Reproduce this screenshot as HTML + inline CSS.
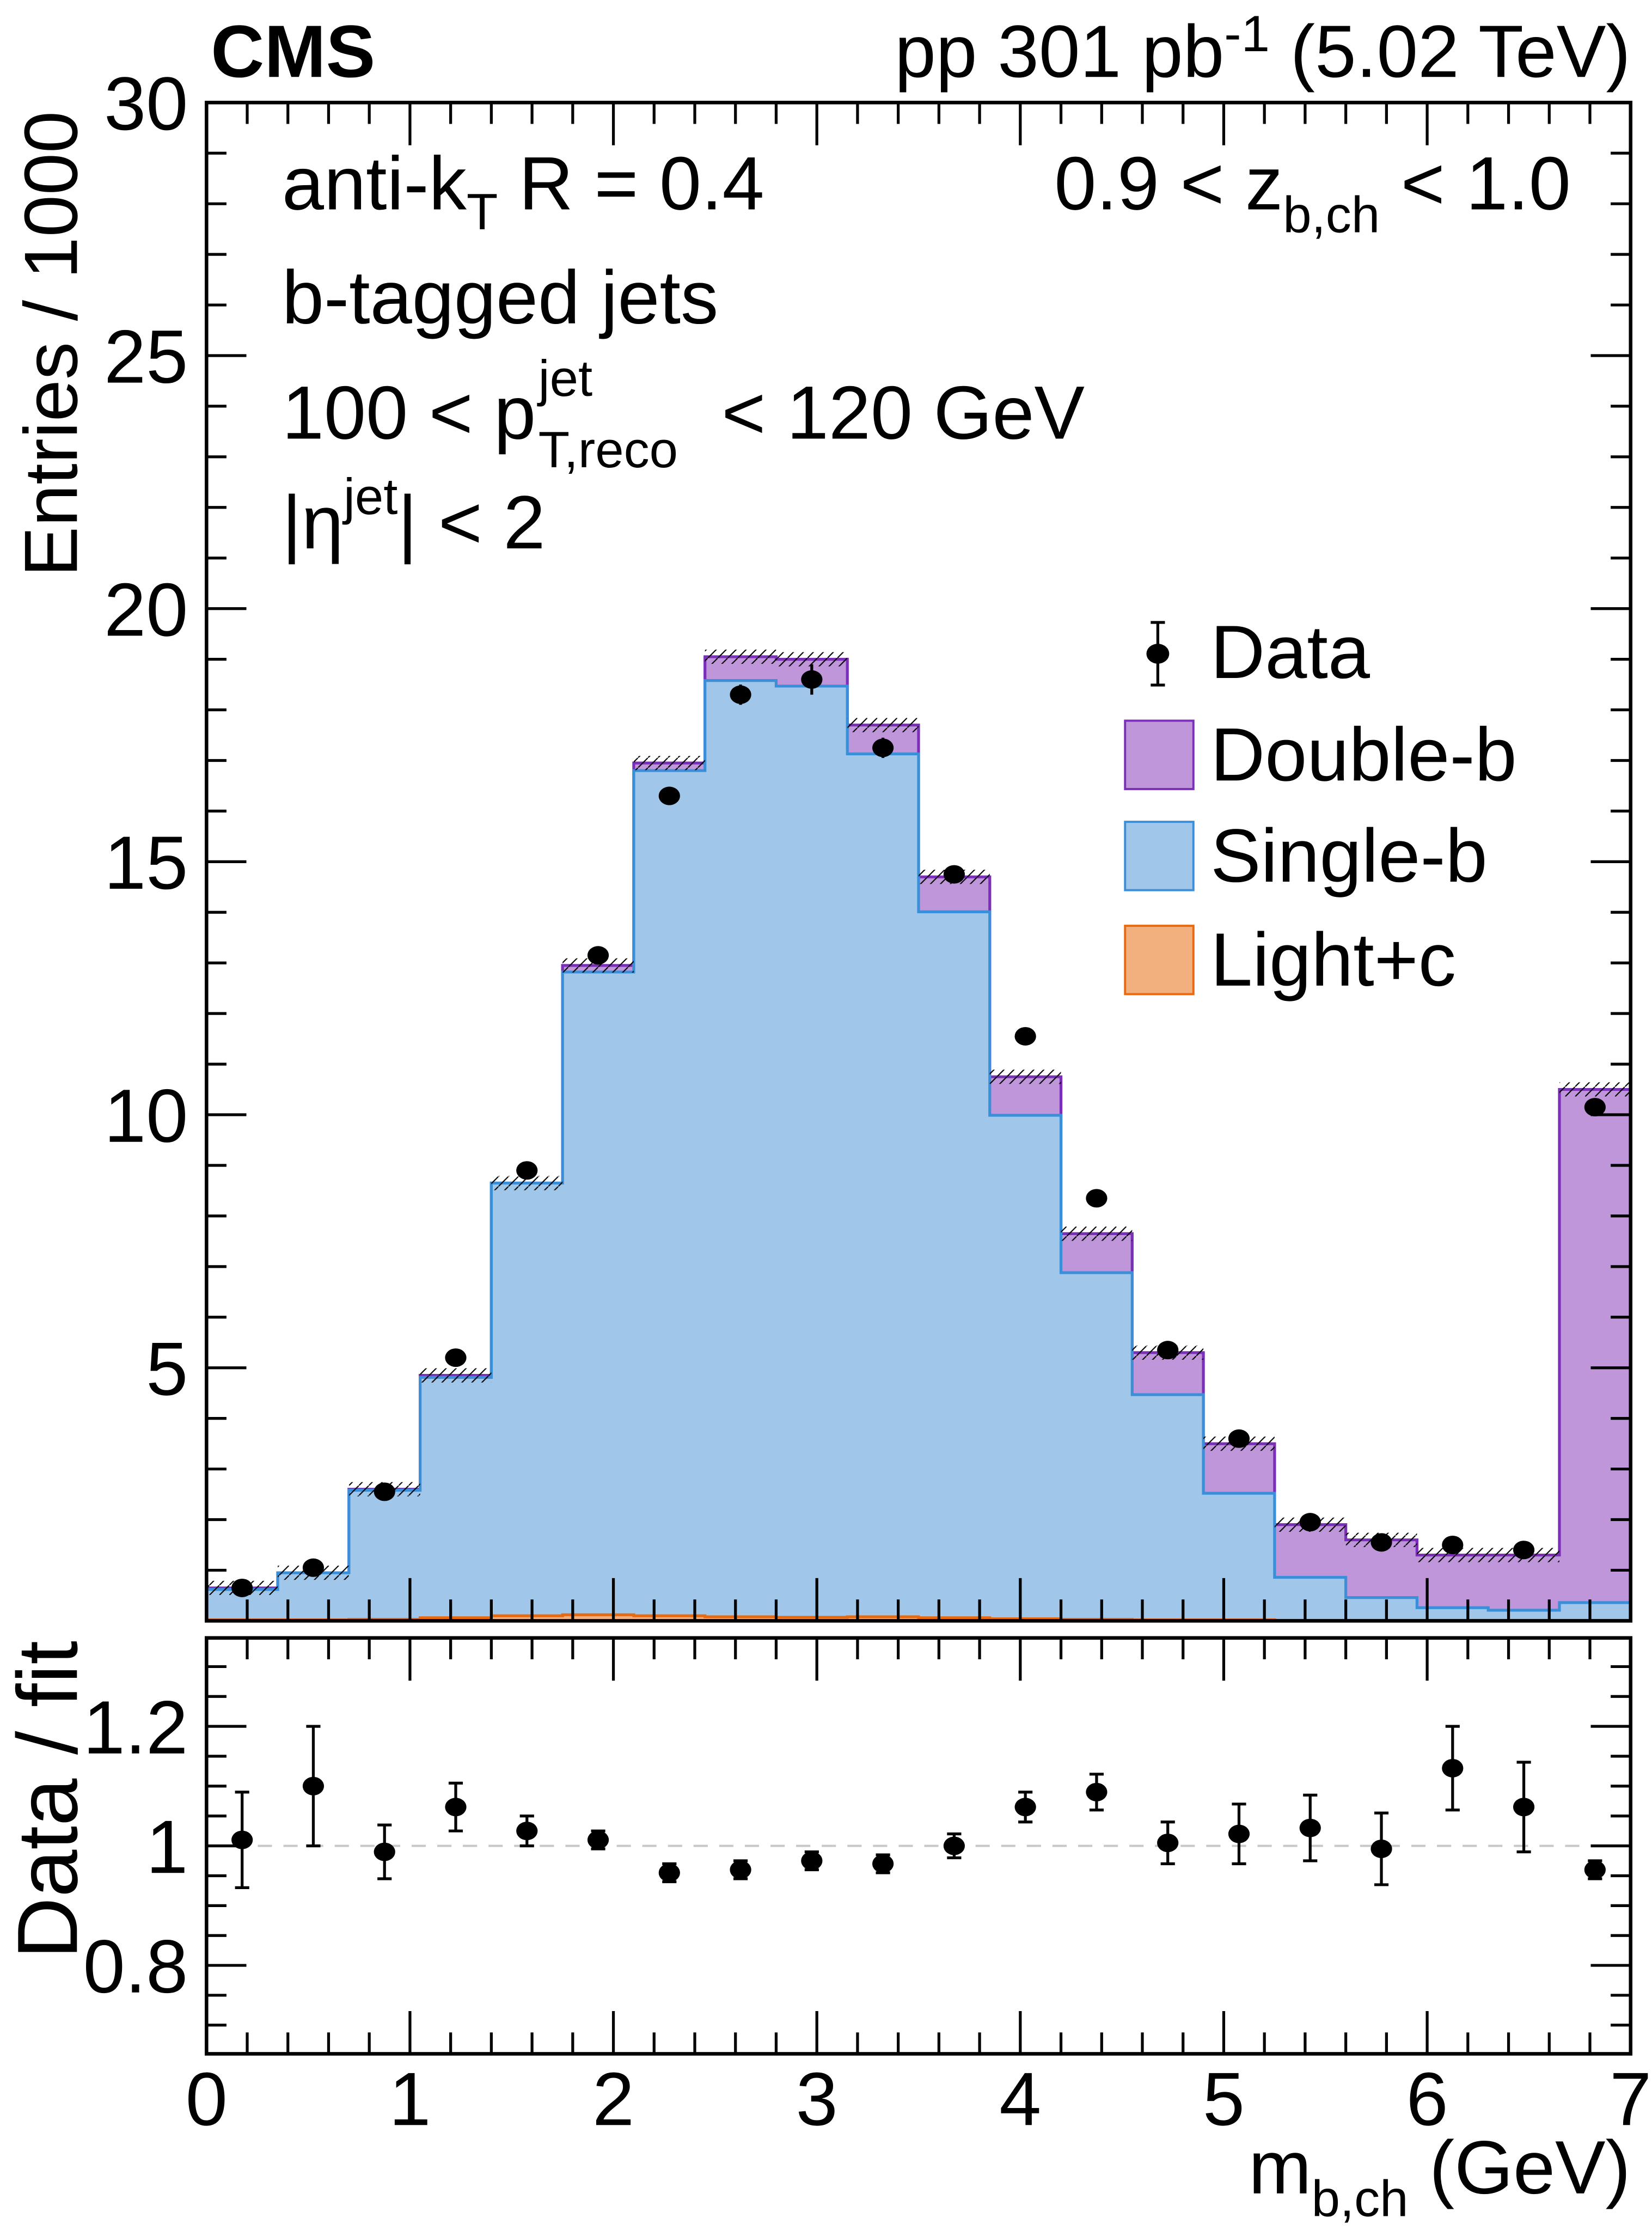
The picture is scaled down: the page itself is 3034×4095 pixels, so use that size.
<!DOCTYPE html>
<html><head><meta charset="utf-8"><style>
html,body{margin:0;padding:0;background:#fff}
svg{display:block;font-family:"Liberation Sans",Arial,sans-serif}
</style></head><body>
<svg id="chart" xmlns="http://www.w3.org/2000/svg" width="3034" height="4095" viewBox="0 0 1160 1565.7">
<defs>
<pattern id="hatch" patternUnits="userSpaceOnUse" width="7" height="7">
<path d="M0,7 L7,0" stroke="#000" stroke-width="0.8"/>
</pattern>
</defs>
<rect x="0" y="0" width="1160" height="1565.7" fill="#fff"/>
<g id="main"></g>
<g id="ratio"></g>
<g id="texts" font-size="53">
<text x="148" y="54" font-weight="bold" font-size="52">CMS</text>
<text x="1145" y="54" text-anchor="end" font-size="52">pp 301 pb<tspan dy="-18" font-size="36">-1</tspan><tspan dy="18"> (5.02 TeV)</tspan></text>
<text x="198" y="147" font-size="53">anti-k<tspan dy="14" font-size="36">T</tspan><tspan dy="-14"> R = 0.4</tspan></text>
<text x="1103" y="147" text-anchor="end" font-size="53">0.9 &lt; z<tspan dy="16" font-size="36">b,ch</tspan><tspan dy="-16"> &lt; 1.0</tspan></text>
<text x="198" y="227" font-size="53">b-tagged jets</text>
<text x="198" y="308" font-size="53">100 &lt; p<tspan x="378" dy="-30" font-size="36">jet</tspan><tspan x="378" dy="50" font-size="36">T,reco</tspan><tspan x="492" dy="-20"> &lt; 120 GeV</tspan></text>
<text x="198" y="385" font-size="53">|η<tspan dy="-24" font-size="36">jet</tspan><tspan dy="24">| &lt; 2</tspan></text>
<text transform="translate(54,78) rotate(-90)" text-anchor="end" font-size="53">Entries / 1000</text>
<text transform="translate(54,1152) rotate(-90)" text-anchor="end" font-size="60">Data / fit</text>
<text x="1145" y="1540" text-anchor="end" font-size="53">m<tspan dy="16" font-size="36">b,ch</tspan><tspan dy="-16"> (GeV)</tspan></text>
</g>
<g id="legend" font-size="53">
<g>
<line x1="813" y1="437" x2="813" y2="481" stroke="#000" stroke-width="2"/><line x1="808" y1="437" x2="818" y2="437" stroke="#000" stroke-width="2"/><line x1="808" y1="481" x2="818" y2="481" stroke="#000" stroke-width="2"/>
<ellipse cx="813" cy="459" rx="8" ry="7" fill="#000"/><text x="850" y="476">Data</text></g>
<g><rect x="790" y="506" width="48" height="48" fill="#c096da" stroke="#7b2fb8" stroke-width="1.5"/><text x="850" y="548">Double-b</text></g>
<g><rect x="790" y="577" width="48" height="48" fill="#a0c6ea" stroke="#3a8fd8" stroke-width="1.5"/><text x="850" y="619">Single-b</text></g>
<g><rect x="790" y="650" width="48" height="48" fill="#f2b07e" stroke="#e86a10" stroke-width="1.5"/><text x="850" y="692">Light+c</text></g>
</g>
</svg>
<script>
const binEdges=[0,0.35,0.7,1.05,1.4,1.75,2.1,2.45,2.8,3.15,3.5,3.85,4.2,4.55,4.9,5.25,5.6,5.95,6.3,6.65,7.0];
const lightC=[0.02,0.02,0.03,0.06,0.1,0.12,0.1,0.08,0.07,0.08,0.06,0.04,0.03,0.02,0.02,0.01,0.01,0.01,0.01,0.01];
const singleB=[0.6,0.93,2.55,4.75,8.55,12.7,16.7,18.5,18.4,17.05,13.95,9.95,6.85,4.45,2.5,0.85,0.45,0.25,0.2,0.35];
const totalFit=[0.65,0.95,2.6,4.85,8.65,12.95,16.95,19.05,19.0,17.7,14.7,10.75,7.65,5.3,3.5,1.9,1.6,1.3,1.3,10.5];
const dataVals=[0.65,1.05,2.55,5.2,8.9,13.15,16.3,18.3,18.6,17.25,14.75,11.55,8.35,5.35,3.6,1.95,1.55,1.5,1.4,10.15];
const dataErr=[0.05,0.08,0.1,0.1,0.12,0.15,0.18,0.2,0.3,0.2,0.15,0.13,0.12,0.1,0.08,0.06,0.05,0.05,0.05,0.12];
const ratioVals=[1.01,1.10,0.99,1.065,1.025,1.01,0.955,0.96,0.975,0.97,1.0,1.065,1.09,1.005,1.02,1.03,0.995,1.13,1.065,0.96];
const ratioErr=[0.08,0.10,0.045,0.04,0.025,0.015,0.015,0.015,0.015,0.015,0.02,0.025,0.03,0.035,0.05,0.055,0.06,0.07,0.075,0.015];
const yTicks=[5,10,15,20,25,30];
const rTicks=[0.8,1.0,1.2];
const rTickLabels=["0.8","1","1.2"];
const xTicks=[0,1,2,3,4,5,6,7];

const NS="http://www.w3.org/2000/svg";
const L=145,R=1145,T=72,B=1138,RT=1150,RB=1442;
const X=v=>L+(R-L)*v/7;
const Y=v=>B-(B-T)*v/30;
const RY=v=>RB-(RB-RT)*(v-0.652)/(1.348-0.652);
function mk(tag,attrs,parent){const e=document.createElementNS(NS,tag);for(const k in attrs)e.setAttribute(k,attrs[k]);parent.appendChild(e);return e;}
const main=document.getElementById('main'),ratio=document.getElementById('ratio');

function stepPath(vals,base){let d='';for(let i=0;i<vals.length;i++){const x0=X(binEdges[i]),x1=X(binEdges[i+1]),y=Y(vals[i]);d+=(i===0?'M'+x0+','+Y(base):'')+' L'+x0+','+y+' L'+x1+','+y;}d+=' L'+X(7)+','+Y(base);return d;}
function stepLine(vals){let d='';for(let i=0;i<vals.length;i++){const x0=X(binEdges[i]),x1=X(binEdges[i+1]),y=Y(vals[i]);d+=(i===0?'M':' L')+x0+','+y+' L'+x1+','+y;}return d;}

const stackSingle=singleB.map((v,i)=>v+lightC[i]);
let p;
p=mk('path',{d:stepPath(totalFit,0)+' Z',fill:'#c096da'},main);


p=mk('path',{d:stepLine(totalFit),fill:'none',stroke:'#7b2fb8','stroke-width':2},main);


p=mk('path',{d:stepPath(stackSingle,0)+' Z',fill:'#a0c6ea'},main);


p=mk('path',{d:'M'+X(0)+','+Y(0)+' L'+stepLine(stackSingle).slice(1)+' L'+X(7)+','+Y(0),fill:'none',stroke:'#3a8fd8','stroke-width':2},main);


p=mk('path',{d:stepPath(lightC,0)+' Z',fill:'#f2b07e',stroke:'#e86a10','stroke-width':2},main);


for(let i=0;i<totalFit.length;i++){
  const r=mk('rect',{x:X(binEdges[i]),y:Y(totalFit[i])-5,width:X(binEdges[i+1])-X(binEdges[i]),height:10,fill:'url(#hatch)'},main);
  
  
}
for(let i=0;i<dataVals.length;i++){
  const cx=(X(binEdges[i])+X(binEdges[i+1]))/2;
  const g=mk('g',{},main);
  
  
  mk('line',{x1:cx,x2:cx,y1:Y(dataVals[i]+dataErr[i]),y2:Y(dataVals[i]-dataErr[i]),stroke:'#000','stroke-width':2},g);
  mk('ellipse',{cx:cx,cy:Y(dataVals[i]),rx:7.5,ry:6.5,fill:'#000'},g);
}
function frame(parent,top,bot,name){
  const f=mk('rect',{x:L,y:top,width:R-L,height:bot-top,fill:'none',stroke:'#000','stroke-width':2.5},parent);
  
  
  for(let v=0;v<=7.0001;v+=0.2){
    const maj=Math.abs(v-Math.round(v))<1e-6;const len=maj?30:15;const x=X(v);
    mk('line',{x1:x,x2:x,y1:bot,y2:bot-len,stroke:'#000','stroke-width':2},parent);
    mk('line',{x1:x,x2:x,y1:top,y2:top+len,stroke:'#000','stroke-width':2},parent);
  }
}
for(let v=1;v<30;v++){const maj=v%5===0;const len=maj?28:14;const y=Y(v);
  mk('line',{x1:L,x2:L+len,y1:y,y2:y,stroke:'#000','stroke-width':2},main);
  mk('line',{x1:R,x2:R-len,y1:y,y2:y,stroke:'#000','stroke-width':2},main);}
frame(main,T,B,'main-frame');
yTicks.forEach(v=>{const t=mk('text',{x:132,y:Y(v)+19,'text-anchor':'end','font-size':53},main);t.textContent=v;
  
  });

const ref=mk('line',{x1:L,x2:R,y1:RY(1),y2:RY(1),stroke:'#c8c8c8','stroke-width':1.5,'stroke-dasharray':'10,8'},ratio);


for(let k=14;k<=27;k++){const v=k*0.05;const maj=Math.abs(v*10-Math.round(v*10))<1e-6&&Math.round(v*10)%2===0;const len=maj?28:14;const y=RY(v);
  if(y<RT||y>RB)continue;
  mk('line',{x1:L,x2:L+len,y1:y,y2:y,stroke:'#000','stroke-width':2},ratio);
  mk('line',{x1:R,x2:R-len,y1:y,y2:y,stroke:'#000','stroke-width':2},ratio);}
frame(ratio,RT,RB,'ratio-frame');
rTicks.forEach((v,i)=>{const t=mk('text',{x:132,y:RY(v)+19,'text-anchor':'end','font-size':53},ratio);t.textContent=rTickLabels[i];
  
  });
for(let i=0;i<ratioVals.length;i++){
  const cx=(X(binEdges[i])+X(binEdges[i+1]))/2;
  const g=mk('g',{},ratio);
  
  
  const y1=RY(ratioVals[i]+ratioErr[i]),y2=RY(ratioVals[i]-ratioErr[i]);
  mk('line',{x1:cx,x2:cx,y1:y1,y2:y2,stroke:'#000','stroke-width':2},g);
  mk('line',{x1:cx-5,x2:cx+5,y1:y1,y2:y1,stroke:'#000','stroke-width':2},g);
  mk('line',{x1:cx-5,x2:cx+5,y1:y2,y2:y2,stroke:'#000','stroke-width':2},g);
  mk('ellipse',{cx:cx,cy:RY(ratioVals[i]),rx:7.5,ry:6.5,fill:'#000'},g);
}
xTicks.forEach(v=>{const t=mk('text',{x:X(v),y:1492,'text-anchor':'middle','font-size':53},ratio);t.textContent=v;
  
  });
</script>
</body></html>
